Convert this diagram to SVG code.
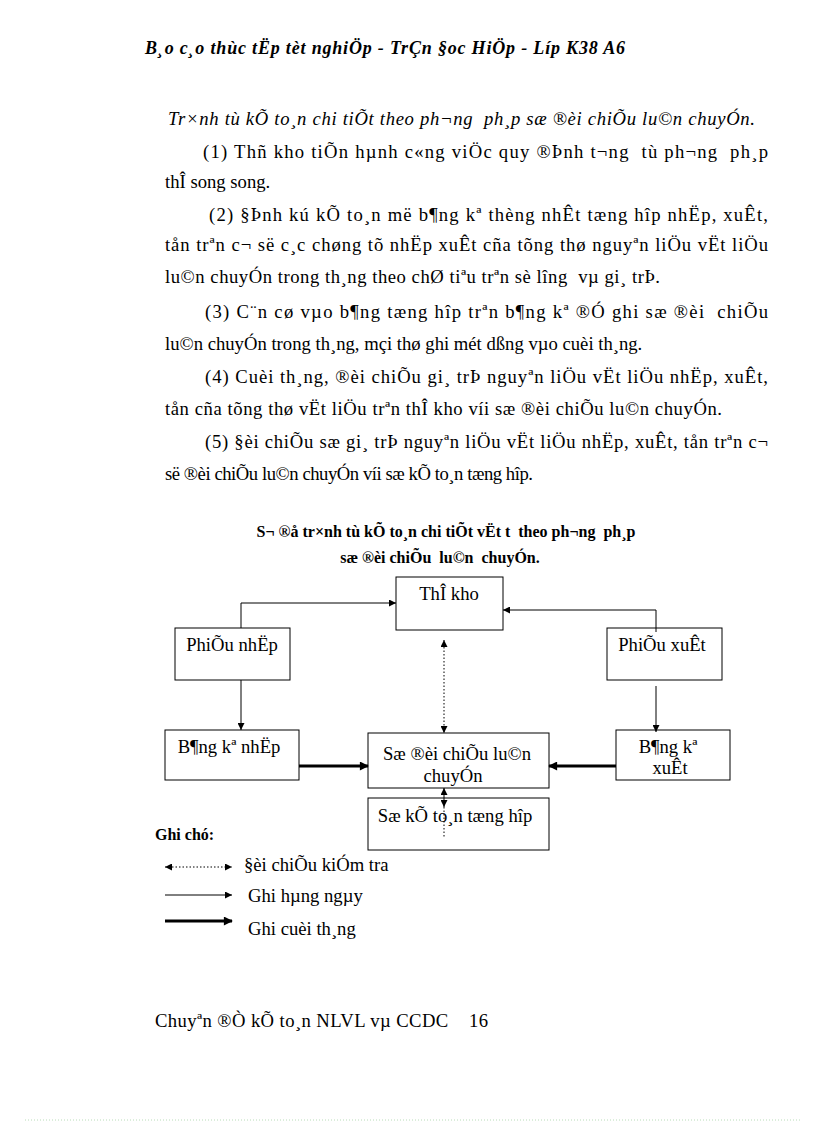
<svg xmlns="http://www.w3.org/2000/svg" width="816" height="1123" viewBox="0 0 816 1123">
<style>
  text { font-family: "Liberation Serif", "Times New Roman", serif; fill: #000; white-space: pre; }
  .hdr { font-size: 18px; font-weight: bold; font-style: italic; }
  .it { font-size: 18.67px; font-style: italic; }
  .body { font-size: 18.67px; }
  .ttl { font-size: 16px; font-weight: bold; }
  .node { font-size: 18.67px; text-anchor: middle; }
  .box { fill: #fff; stroke: #000; stroke-width: 1; }
  .thin { fill: none; stroke: #000; stroke-width: 1; }
  .thick { fill: none; stroke: #000; stroke-width: 3; }
  .dot { fill: none; stroke: #000; stroke-width: 1; stroke-dasharray: 1.5 2; }
  .leg { font-size: 18.67px; }
  .note { font-size: 16px; font-weight: bold; }
</style>
<defs>
  <marker id="ah" viewBox="0 0 10 10" refX="10" refY="5" markerWidth="9" markerHeight="7" markerUnits="userSpaceOnUse" orient="auto-start-reverse">
    <path d="M0,0 L10,5 L0,10 z" fill="#000"/>
  </marker>
  <marker id="ahk" viewBox="0 0 10 10" refX="9" refY="5" markerWidth="11" markerHeight="9" markerUnits="userSpaceOnUse" orient="auto-start-reverse">
    <path d="M0,0 L10,5 L0,10 z" fill="#000"/>
  </marker>
</defs>

<g id="header">
  <text class="hdr" x="145" y="54" textLength="480" lengthAdjust="spacing">B¸o c¸o thùc tËp tèt nghiÖp - TrÇn §oc HiÖp - Líp K38 A6</text>
</g>

<g id="body-text">
  <text class="it" x="168" y="125" textLength="587" lengthAdjust="spacing">Tr×nh tù kÕ to¸n chi tiÕt theo ph¬ng  ph¸p sæ ®èi chiÕu lu©n chuyÓn.</text>
  <text class="body" x="203" y="158" textLength="565" lengthAdjust="spacing">(1) Thñ kho tiÕn hµnh c«ng viÖc quy ®Þnh t¬ng  tù ph¬ng  ph¸p</text>
  <text class="body" x="165" y="188">thÎ song song.</text>
  <text class="body" x="209" y="221" textLength="559" lengthAdjust="spacing">(2) §Þnh kú kÕ to¸n më b¶ng kª thèng nhÊt tæng hîp nhËp, xuÊt,</text>
  <text class="body" x="165" y="251" textLength="603" lengthAdjust="spacing">tån trªn c¬ së c¸c chøng tõ nhËp xuÊt cña tõng thø nguyªn liÖu vËt liÖu</text>
  <text class="body" x="165" y="283" textLength="495" lengthAdjust="spacing">lu©n chuyÓn trong th¸ng theo chØ tiªu trªn sè lîng  vµ gi¸ trÞ.</text>
  <text class="body" x="205" y="318" textLength="563" lengthAdjust="spacing">(3) C¨n cø vµo b¶ng tæng hîp trªn b¶ng kª ®Ó ghi sæ ®èi  chiÕu</text>
  <text class="body" x="165" y="350">lu©n chuyÓn trong th¸ng, mçi thø ghi mét dßng vµo cuèi th¸ng.</text>
  <text class="body" x="205" y="383" textLength="563" lengthAdjust="spacing">(4) Cuèi th¸ng, ®èi chiÕu gi¸ trÞ nguyªn liÖu vËt liÖu nhËp, xuÊt,</text>
  <text class="body" x="165" y="415" textLength="557" lengthAdjust="spacing">tån cña tõng thø vËt liÖu trªn thÎ kho víi sæ ®èi chiÕu lu©n chuyÓn.</text>
  <text class="body" x="205" y="448" textLength="563" lengthAdjust="spacing">(5) §èi chiÕu sæ gi¸ trÞ nguyªn liÖu vËt liÖu nhËp, xuÊt, tån trªn c¬</text>
  <text class="body" x="165" y="480" textLength="368" lengthAdjust="spacing">së ®èi chiÕu lu©n chuyÓn víi sæ kÕ to¸n tæng hîp.</text>
</g>

<g id="diagram-title">
  <text class="ttl" x="446" y="537" text-anchor="middle">S¬ ®å tr×nh tù kÕ to¸n chi tiÕt vËt t  theo ph¬ng  ph¸p</text>
  <text class="ttl" x="440" y="563" text-anchor="middle">sæ ®èi chiÕu  lu©n  chuyÓn.</text>
</g>

<g id="node-the-kho">
  <rect class="box" x="396" y="577" width="107" height="53"/>
  <text class="node" x="449" y="600">ThÎ kho</text>
</g>
<g id="node-phieu-nhap">
  <rect class="box" x="175" y="628" width="115" height="52"/>
  <text class="node" x="232" y="651">PhiÕu nhËp</text>
</g>
<g id="node-phieu-xuat">
  <rect class="box" x="607" y="628" width="115" height="52"/>
  <text class="node" x="662" y="651">PhiÕu xuÊt</text>
</g>
<g id="node-bang-ke-nhap">
  <rect class="box" x="165" y="730" width="134" height="50"/>
  <text class="node" x="229" y="753">B¶ng kª nhËp</text>
</g>
<g id="node-so-doi-chieu">
  <rect class="box" x="368" y="733" width="181" height="55"/>
  <text class="node" x="457" y="760">Sæ ®èi chiÕu lu©n</text>
  <text class="node" x="453" y="782">chuyÓn</text>
</g>
<g id="node-bang-ke-xuat">
  <rect class="box" x="616" y="730" width="114" height="50"/>
  <text class="node" x="668" y="753">B¶ng kª</text>
  <text class="node" x="670" y="774">xuÊt</text>
</g>
<g id="node-so-ke-toan">
  <rect class="box" x="368" y="798" width="181" height="52"/>
  <text class="node" x="455" y="822">Sæ kÕ to¸n tæng hîp</text>
</g>

<g id="connectors">
  <path class="thin" d="M241,628 V603 H396" marker-end="url(#ah)"/>
  <path class="thin" d="M656,632 V610 H503" marker-end="url(#ah)"/>
  <path class="thin" d="M241,680 V730" marker-end="url(#ah)"/>
  <path class="thin" d="M656,686 V732" marker-end="url(#ah)"/>
  <path class="thick" d="M299,766 H368" marker-end="url(#ahk)"/>
  <path class="thick" d="M616,766 H549" marker-end="url(#ahk)"/>
  <path class="dot" d="M444,640 V733" marker-start="url(#ah)" marker-end="url(#ah)"/>
  <path class="thin" d="M444,797 V788" marker-end="url(#ah)"/>
  <path class="thin" d="M444,797 V807" marker-end="url(#ah)"/>
  <path class="dot" d="M444,807 V838"/>
</g>

<g id="legend">
  <text class="note" x="155" y="840">Ghi chó:</text>
  <path class="dot" d="M165,867 H232" marker-start="url(#ah)" marker-end="url(#ah)"/>
  <text class="leg" x="244" y="871">§èi chiÕu kiÓm tra</text>
  <path class="thin" d="M165,895 H232" marker-end="url(#ah)"/>
  <text class="leg" x="248" y="902">Ghi hµng ngµy</text>
  <path class="thick" d="M165,921 H232" marker-end="url(#ahk)"/>
  <text class="leg" x="248" y="935">Ghi cuèi th¸ng</text>
</g>

<g id="footer">
  <text class="body" x="155" y="1027" textLength="333" lengthAdjust="spacing">Chuyªn ®Ò kÕ to¸n NLVL vµ CCDC    16</text>
  <line x1="25" y1="1120" x2="800" y2="1120" stroke="#b8dcb8" stroke-width="1" stroke-dasharray="1 2"/>
</g>
</svg>
